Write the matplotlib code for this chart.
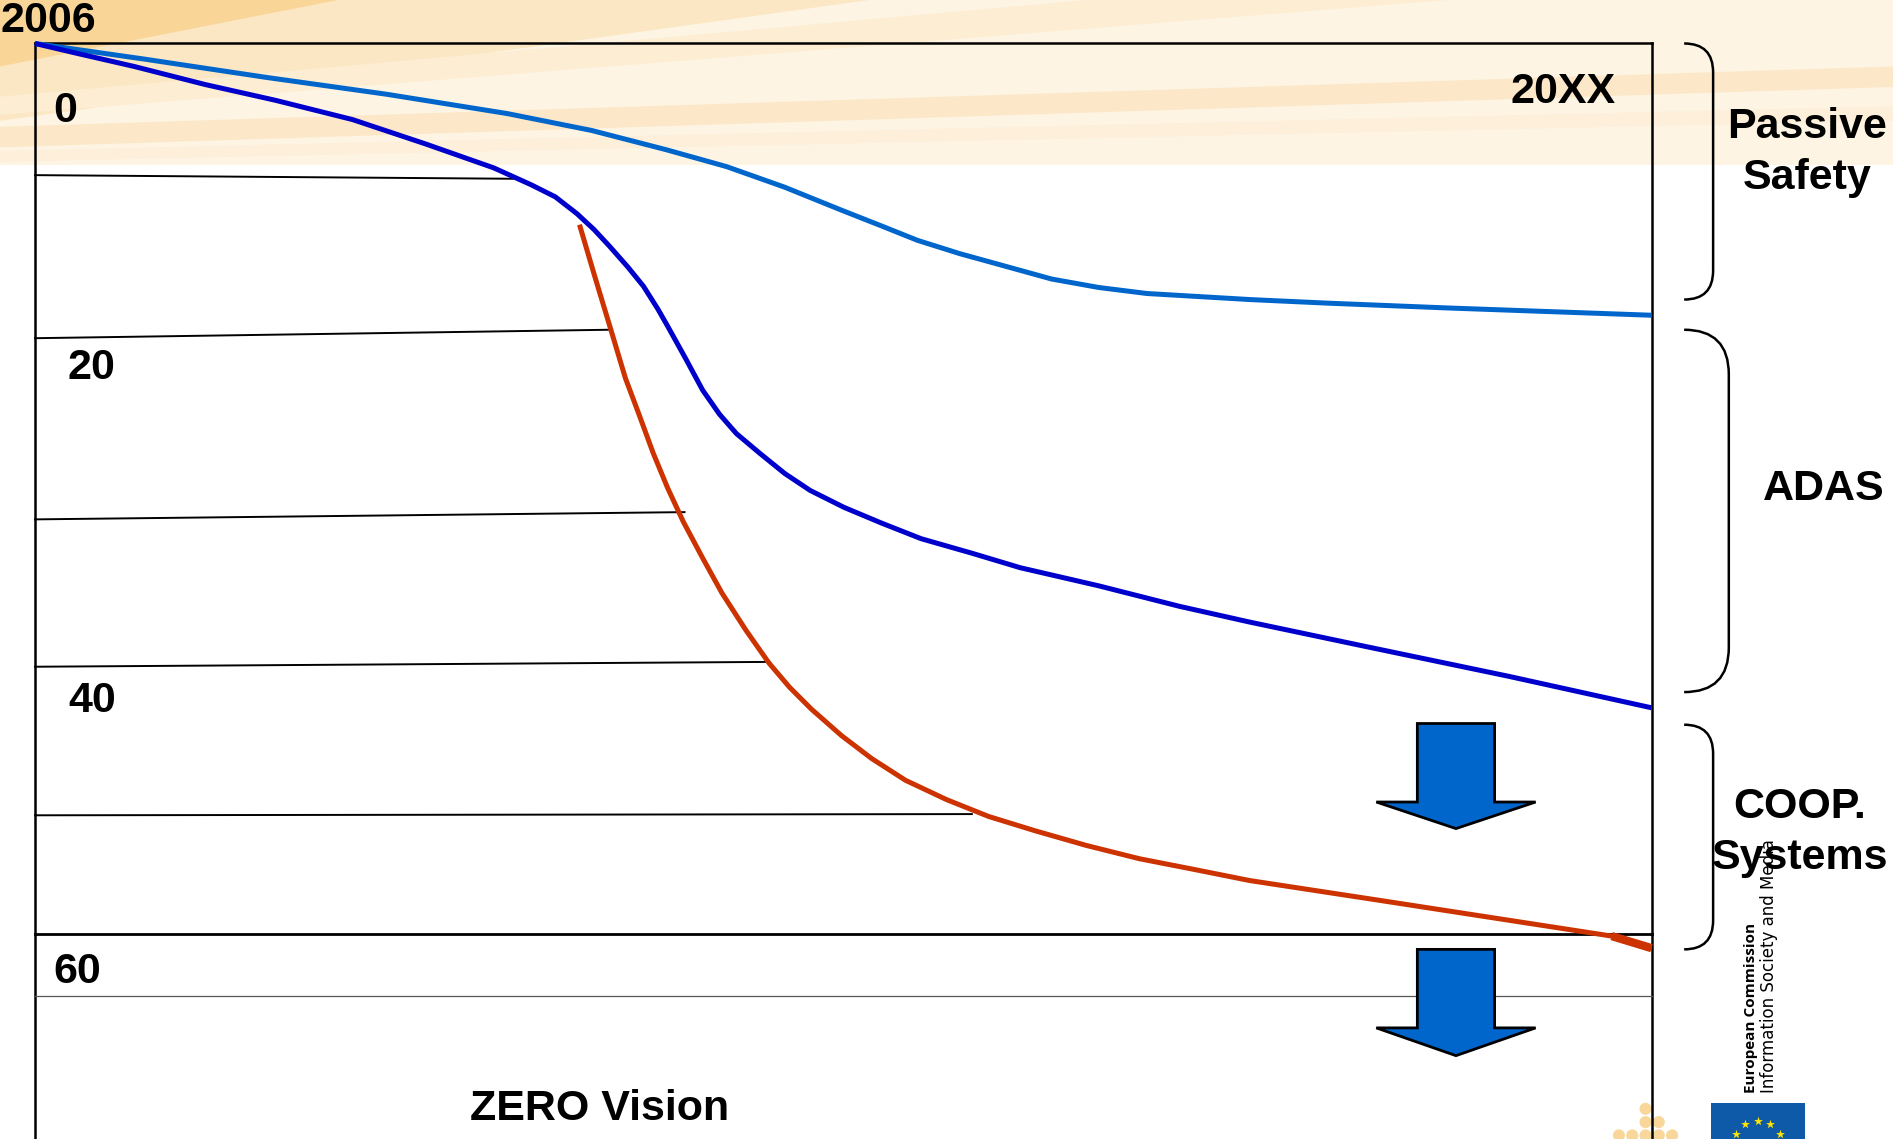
import matplotlib
matplotlib.use("Agg")
import matplotlib.pyplot as plt
from matplotlib.patches import Polygon, PathPatch, Rectangle, Circle
from matplotlib.path import Path
import numpy as np

plt.rcParams['font.family'] = ['Liberation Sans', 'DejaVu Sans']

# ---- data (reference coordinates, x to the right, y downward) ----
passive_x = [29, 120, 220, 320, 420, 490, 552, 602, 650, 697, 730, 760, 795, 824, 871, 910, 950, 1035, 1100, 1200, 1368]
passive_y = [36, 49, 64, 78, 94, 108, 124, 138, 155, 174, 187, 199, 210, 218, 231, 238, 243, 248, 251, 255, 261]

adas_x = [29, 63, 111, 170, 228, 292, 352, 409, 440, 460, 478, 492, 505, 520, 533, 545, 553, 568, 582, 596, 610, 629, 650, 671, 699, 730, 763, 805, 845, 910, 977, 1035, 1130, 1250, 1368]
adas_y = [36, 44, 55, 70, 83, 99, 119, 139, 153, 163, 177, 190, 204, 221, 237, 256, 270, 297, 323, 343, 359, 375, 392, 406, 420, 433, 446, 458, 470, 485, 502, 515, 535, 560, 586]

coop_x = [480, 493, 506, 518, 530, 541, 553, 566, 582, 598, 618, 637, 654, 672, 697, 722, 750, 784, 819, 858, 900, 944, 990, 1035, 1140, 1270, 1335, 1368]
coop_y = [186, 230, 273, 313, 345, 375, 404, 432, 462, 491, 522, 549, 569, 587, 609, 628, 646, 662, 676, 688, 700, 711, 720, 729, 745, 765, 775, 785]

level_labels = ["0", "20", "40", "60"]
level_label_x = [54, 76, 76, 64]
level_label_y = [92, 305, 580, 805]

grid_x_end = [425, 505, 567, 637, 805]
grid_y_start = [145, 280, 430, 552, 675]
grid_y_end = [148, 273, 424, 548, 674]

segments = ["Passive\nSafety", "ADAS", "COOP.\nSystems"]
segment_top = [36, 273, 600]
segment_bottom = [248, 573, 786]
segment_depth = [24, 37, 24]
segment_label_x = [1497, 1511, 1491]
segment_label_y = [126, 405, 689]

W, H = 1568, 943
fig = plt.figure(figsize=(18.93, 11.39), dpi=100)
ax = fig.add_axes([0, 0, 1, 1])
ax.set_xlim(0, W)
ax.set_ylim(H, 0)
ax.axis('off')

# ---- background band with rays ----
ax.add_patch(Rectangle((0, 0), W, 137, color='#FEF4E3', zorder=0, lw=0))
rays = [
    ([(0, 0), (720, 0), (0, 100)], '#FCE7C4'),
    ([(0, 0), (280, 0), (0, 55)], '#F9D597'),
    ([(900, 0), (1200, 0), (0, 95), (0, 80)], '#FDEDD3'),
    ([(0, 105), (W, 55), (W, 72), (0, 122)], '#FCE8C8'),
    ([(0, 125), (W, 88), (W, 100), (0, 134)], '#FDEFD9'),
]
for pts, col in rays:
    ax.add_patch(Polygon(pts, closed=True, color=col, lw=0, zorder=0.5))

# ---- frame ----
ax.plot([29, 1368], [36, 36], color='black', lw=1.8, zorder=2)
ax.plot([29, 29], [36, H], color='black', lw=1.8, zorder=2)
ax.plot([1368, 1368], [36, H], color='black', lw=1.8, zorder=2)

# grid lines
for xe, ys, ye in zip(grid_x_end, grid_y_start, grid_y_end):
    ax.plot([29, xe], [ys, ye], color='black', lw=1.4, zorder=2)
ax.plot([29, 1368], [773, 773], color='black', lw=2.0, zorder=2)
ax.plot([29, 1368], [825, 825], color='#555555', lw=0.9, zorder=2)

# ---- curves ----
ax.plot(passive_x, passive_y, color='#0066CC', lw=3.6, zorder=4, solid_capstyle='butt', solid_joinstyle='round')
ax.plot(adas_x, adas_y, color='#0000CC', lw=3.6, zorder=4, solid_capstyle='butt', solid_joinstyle='round')
ax.plot(coop_x, coop_y, color='#CC3300', lw=3.6, zorder=4, solid_capstyle='butt', solid_joinstyle='round')
ax.plot(coop_x[-2:], coop_y[-2:], color='#CC3300', lw=6, zorder=4, solid_capstyle='butt')

# ---- labels ----
big = 31
ax.text(0, 17, "2006", fontsize=big, fontweight='bold', ha='left', va='center', zorder=5)
ax.text(1338, 76, "20XX", fontsize=big, fontweight='bold', ha='right', va='center', zorder=5)
for lab, lx, ly in zip(level_labels, level_label_x, level_label_y):
    ax.text(lx, ly, lab, fontsize=big, fontweight='bold', ha='center', va='center', zorder=5)
ax.text(497, 918, "ZERO Vision", fontsize=big, fontweight='bold', ha='center', va='center', zorder=5)

# ---- braces ----
for top, bot, d, lab, tx, ty in zip(segment_top, segment_bottom, segment_depth,
                                    segments, segment_label_x, segment_label_y):
    x0 = 1395
    x1 = x0 + d
    r = d
    verts = [(x0, top), (x1, top), (x1, top + r), (x1, bot - r), (x1, bot), (x0, bot)]
    codes = [Path.MOVETO, Path.CURVE3, Path.CURVE3, Path.LINETO, Path.CURVE3, Path.CURVE3]
    ax.add_patch(PathPatch(Path(verts, codes), fill=False, color='black', lw=1.8, zorder=3))
    ax.text(tx, ty, lab, fontsize=big, fontweight='bold', ha='center', va='center',
            linespacing=1.36, zorder=5)

# ---- arrows ----
for top, neck, tip in [(599, 664, 686), (786, 851, 874)]:
    pts = [(1174, top), (1238, top), (1238, neck), (1272, neck), (1206, tip),
           (1140, neck), (1174, neck)]
    ax.add_patch(Polygon(pts, closed=True, facecolor='#0066CC', edgecolor='black',
                         lw=2, zorder=6, joinstyle='miter'))

# ---- logos ----
ax.text(1450, 905, "European Commission", rotation=90, fontsize=11, fontweight='bold',
        ha='center', va='bottom', family=['Open Sans', 'DejaVu Sans'], zorder=5)
ax.text(1465, 905, "Information Society and Media", rotation=90, fontsize=12,
        ha='center', va='bottom', family=['DejaVu Sans'], zorder=5)

ax.add_patch(Rectangle((1417, 913), 78, 40, color='#0F5AA8', lw=0, zorder=5))
ang = np.deg2rad(np.arange(0, 360, 30))
ax.scatter(1456 + 21 * np.cos(ang), 949 + 21 * np.sin(ang), marker='*', s=45,
           color='#FFE500', zorder=6, clip_on=True, linewidths=0)

dots_x = [1363, 1363, 1374, 1341, 1352, 1363, 1374, 1385]
dots_y = [918, 929, 929, 940, 940, 940, 940, 940]
for dx, dy in zip(dots_x, dots_y):
    ax.add_patch(Circle((dx, dy), 5, color='#F9D79A', lw=0, zorder=1))

fig.savefig("out.png", dpi=100)
